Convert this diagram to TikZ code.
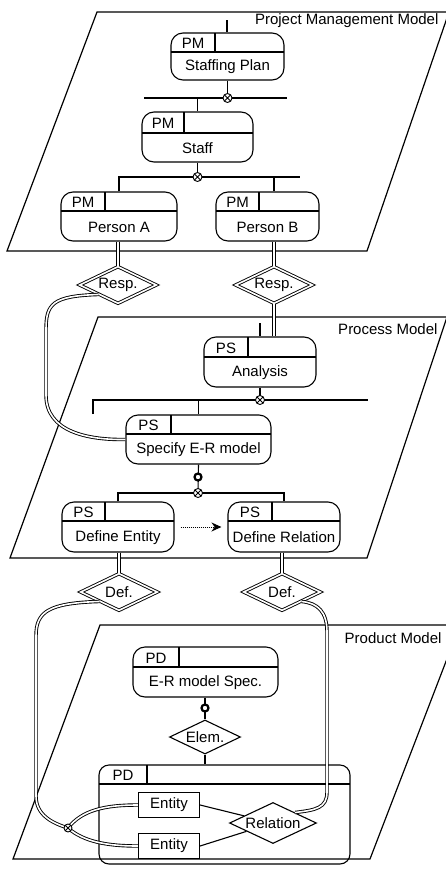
\documentclass[tikz,border=0pt]{standalone}
\usepackage{fontspec}
\setmainfont{Liberation Sans}
\usetikzlibrary{shapes.geometric,fit,arrows.meta,calc}
\newcommand{\kbox}[9]{%
  \node[kb, fit={(#2,#3) (#4,#5)}] (#1) {};
  \draw (#2,#6) -- (#4,#6);
  \draw (#7,#3) -- (#7,#6);
  \node[txt] (#1-tag) at ({(#2+#7)/2},{(#3+#6)/2+1}) {#8};
  \node[txt] (#1-lab) at ({(#2+#4)/2},{(#6+#5)/2+1}) {#9};
}
\begin{document}
\begin{tikzpicture}[x=1pt,y=-1pt,line width=1.1pt,
  txt/.style={inner sep=0pt,font=\fontsize{15}{16}\selectfont},
  kb/.style={draw,rounded corners=12pt,inner sep=0pt},
  plane/.style={draw,line width=1.2pt},
  dbl/.style={double,double distance=1.6pt,line width=0.9pt},
  ddia/.style={diamond,draw,double,double distance=1.6pt,line width=0.9pt,aspect=2,inner sep=0pt,minimum width=77pt,minimum height=37pt,font=\fontsize{15}{16}\selectfont},
  sdia/.style={diamond,draw,aspect=2,inner sep=0pt,font=\fontsize{15}{16}\selectfont},
  xc/.style={circle,draw,fill=white,inner sep=0pt,minimum size=9pt,line width=0.9pt,
    path picture={\draw[line width=0.9pt] (path picture bounding box.north west) -- (path picture bounding box.south east)
      (path picture bounding box.north east) -- (path picture bounding box.south west);}},
  ring/.style={circle,draw,fill=white,inner sep=0pt,minimum size=7pt,line width=2.2pt},
  ent/.style={draw,inner sep=0pt,minimum width=61pt,minimum height=25pt,font=\fontsize{15}{16}\selectfont}]
\clip (0,0) rectangle (446,870);
\fill[white] (0,0) rectangle (446,870);

% ---------------- Project Management plane ----------------
\draw[plane] (97,12) -- (449,12) -- (367,251) -- (7,251) -- cycle;
\node[txt,anchor=east] (pmlabel) at (439,21) {Project Management Model};

\kbox{sp}{171}{33}{284}{80}{52}{215}{PM}{Staffing Plan}
\kbox{st}{142}{112}{253}{162}{133}{184}{PM}{Staff}
\kbox{pa}{61}{192}{177}{241}{211}{105}{PM}{Person A}
\kbox{pb}{216}{192}{319}{241}{211}{259}{PM}{Person B}

\coordinate (stub1) at (227,20);
\draw (stub1) -- (stub1 |- sp.north);
\coordinate (h1l) at (144,98);
\coordinate (h1r) at (287,98);
\draw (h1l) -- (h1r);
\draw (sp.south) -- (sp.south |- h1l);
\node[xc] (x1) at (sp.south |- h1l) {};
\draw (st.north |- h1l) -- (st.north);

\coordinate (h2r) at (300,177);
\draw (pa.north) |- (h2r);
\draw (st.south) -- (st.south |- h2r);
\node[xc] (x2) at (st.south |- h2r) {};

\node[ddia] (ra) at (118,285) {Resp.};
\node[ddia] (rb) at (274,285) {Resp.};
\draw (rb.north |- h2r) -- (rb.north |- pb.north);
\draw[dbl] (ra.north |- pa.south) -- (ra.north);
\draw[dbl] (rb.north |- pb.south) -- (rb.north);

% ---------------- Process plane ----------------
\draw[plane] (98,317) -- (447,317) -- (367,558) -- (10,558) -- cycle;
\node[txt,anchor=east] (pslabel) at (438,329) {Process Model};

\kbox{an}{204}{337}{316}{387}{357}{248}{PS}{Analysis}
\kbox{spec}{126}{415}{271}{464}{434}{171}{PS}{Specify E-R model}
\kbox{de}{62}{502}{174}{552}{521}{105}{PS}{Define Entity}
\kbox{dr}{228}{502}{340}{552}{521}{272}{PS}{Define Relation}

\coordinate (stub2) at (260,323);
\draw (stub2) -- (stub2 |- an.north);
\draw[dbl] (rb.south) -- (rb.south |- an.north);

\coordinate (h3l) at (93,414);
\coordinate (h3r) at (368,400);
\draw (h3l) |- (h3r);
\draw (an.south) -- (an.south |- h3r);
\node[xc] (x3) at (an.south |- h3r) {};
\draw (spec.north |- h3r) -- (spec.north);

\draw[dbl] (ra.south west) .. controls (52,296) and (46,304) .. (46,330)
  -- (46,395) .. controls (46,432) and (88,440) .. (spec.west);

\coordinate (h4) at (198,493);
\draw (de.north) |- (h4) -| (dr.north);
\draw (spec.south) -- (h4);
\node[ring] (r1) at (198,477) {};
\node[xc] (x4) at (h4) {};

\draw[densely dotted,line width=1pt,-{Stealth[length=10pt,width=9pt]},shorten <=6pt,shorten >=6pt] (de.east) -- (dr.west |- de.east);

\node[ddia] (ld) at (119,592) {Def.};
\node[ddia] (rd) at (282,592) {Def.};
\draw[dbl] (ld.north |- de.south) -- (ld.north);
\draw[dbl] (rd.north |- dr.south) -- (rd.north);

% ---------------- Product plane ----------------
\draw[plane] (100,625) -- (460,625) -- (370,859) -- (13,859) -- cycle;
\node[txt,anchor=east] (pdlabel) at (442,638) {Product Model};

\kbox{er}{133}{647}{278}{697}{667}{179}{PD}{E-R model Spec.}
\node[sdia,minimum width=71pt,minimum height=34pt] (elem) at (205,737) {Elem.};
\draw (er.south -| elem.north) -- (elem.north);
\node[ring] (r2) at (205,708) {};

\begin{scope}[kb/.append style={rounded corners=10pt}]
\kbox{pdbox}{99}{765}{350}{864}{784}{147}{PD}{}
\end{scope}
\draw (elem.south) -- (elem.south |- pdbox.north);

\node[ent] (e1) at (169,805) {Entity};
\node[ent] (e2) at (169,846) {Entity};
\node[sdia,minimum width=87pt,minimum height=41pt] (rel) at (273,823) {Relation};
\draw (e1.east) -- (rel);
\draw (e2.east) -- (rel);

\coordinate (xc5) at (68,828);
\draw[dbl] (ld.south west) .. controls (48,603) and (36,612) .. (36,636)
  -- (36,796) .. controls (36,815) and (52,823) .. (xc5);
\draw[dbl] (xc5) .. controls (82,810) and (105,805) .. (e1.west);
\draw[dbl] (xc5) .. controls (84,842) and (108,846) .. (e2.west);
\node[xc,minimum size=8pt] (x5) at (xc5) {};

\draw[dbl] (rd.south east) .. controls (318,603) and (327,612) .. (327,632)
  -- (327,792) .. controls (327,808) and (316,810) .. (rel.north east);
\end{tikzpicture}
\end{document}
